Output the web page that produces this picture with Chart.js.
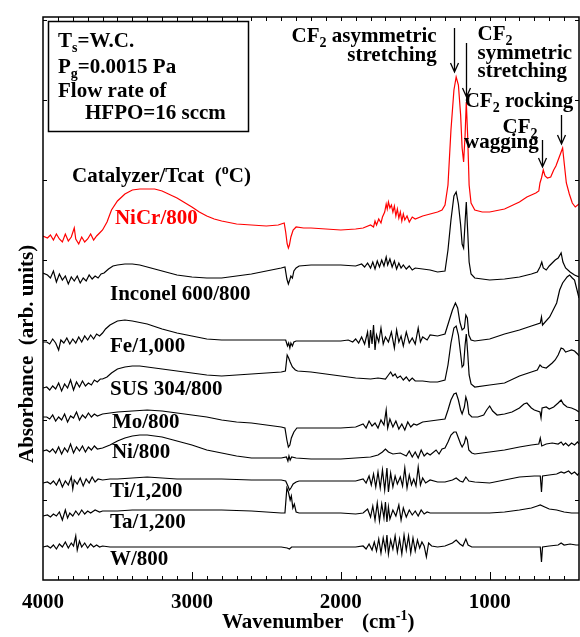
<!DOCTYPE html>
<html>
<head>
<meta charset="utf-8">
<script src="https://cdn.jsdelivr.net/npm/chart.js@4.4.1/dist/chart.umd.min.js"></script>
<style>
html, body { margin: 0; padding: 0; background: #fff; }
#wrap { width: 580px; height: 637px; }
</style>
</head>
<body>
<div id="wrap"><canvas id="ftir" width="580" height="637"></canvas></div>
<script>
// ===== DATA (wavenumber cm-1, absorbance arb. units, offset already applied) =====

var nicr = [
  [4000,344],[3970,342],[3950,345],[3930,340],[3910,346],[3890,341],[3870,338],[3850,346],[3830,339],[3810,343],
  [3790,352],[3780,341],[3760,336],[3740,343],[3720,338],[3700,341],[3680,346],[3660,340],[3640,344],[3620,347],
  [3600,350],[3570,358],[3540,370],[3500,379],[3450,386],[3400,390],[3350,391],[3300,391],[3250,391],[3200,389],
  [3100,382],[3000,373],[2950,368],[2900,364],[2850,361],[2800,359],[2700,356],[2600,355],[2500,354],[2420,355],
  [2380,357],[2370,348],[2360,336],[2352,332],[2345,335],[2335,343],[2320,350],[2300,353],[2250,352],[2200,352],
  [2100,351],[2000,350],[1900,351],[1850,352],[1800,355],[1780,353],[1770,359],[1760,355],[1745,361],[1730,357],
  [1720,363],[1705,368],[1695,376],[1688,371],[1680,378],[1670,372],[1660,375],[1650,368],[1640,374],[1630,364],
  [1620,371],[1610,362],[1600,368],[1590,359],[1580,366],[1570,360],[1555,364],[1540,358],[1520,363],[1500,361],
  [1450,364],[1400,366],[1350,368],[1320,370],[1300,375],[1280,395],[1260,450],[1240,490],[1225,503],[1210,495],
  [1195,465],[1185,432],[1175,418],[1165,445],[1157,478],[1148,445],[1138,395],[1125,377],[1100,370],[1050,368],
  [1000,368],[900,371],[800,378],[750,383],[720,385],[690,387],[670,389],[662,397],[652,402],[640,410],
  [628,404],[612,402],[590,403],[570,410],[555,414],[540,420],[520,428],[510,432],[498,415],[485,397],
  [465,386],[445,377],[425,373],[400,376]
];

var inconel = [
  [4000,307],[3970,305],[3950,302],[3930,309],[3910,298],[3890,306],[3870,300],[3850,304],[3830,296],[3810,303],
  [3790,299],[3770,304],[3750,297],[3730,302],[3710,299],[3690,305],[3670,301],[3650,304],[3630,302],[3610,306],
  [3590,307],[3560,311],[3530,314],[3500,315],[3450,316],[3400,316],[3350,315],[3300,313],[3200,309],[3100,305],
  [3000,303],[2900,302],[2800,302],[2700,304],[2600,306],[2500,309],[2400,312],[2375,313],[2362,301],[2352,296],
  [2343,300],[2335,304],[2325,302],[2315,309],[2300,312],[2280,314],[2200,315],[2100,315],[2000,315],[1900,314],
  [1860,316],[1840,313],[1820,317],[1800,312],[1785,318],[1770,311],[1755,319],[1740,313],[1725,320],[1710,314],
  [1695,323],[1685,315],[1670,321],[1655,313],[1640,319],[1625,311],[1610,317],[1595,312],[1580,315],[1560,311],
  [1540,314],[1520,310],[1500,312],[1450,311],[1400,310],[1350,308],[1300,309],[1280,330],[1260,360],[1240,384],
  [1225,388],[1210,376],[1195,355],[1185,336],[1175,332],[1165,358],[1157,378],[1148,350],[1138,318],[1125,306],
  [1100,302],[1000,300],[900,301],[800,303],[720,306],[680,308],[662,313],[650,318],[640,312],[620,310],
  [600,314],[580,317],[560,320],[540,322],[520,327],[508,318],[490,312],[460,308],[430,305],[400,303]
];

var fe = [
  [4000,238],[3975,238],[3955,236],[3935,241],[3915,237],[3895,230],[3880,240],[3860,237],[3840,242],[3820,236],
  [3800,241],[3780,237],[3760,243],[3740,238],[3720,244],[3700,240],[3680,245],[3660,241],[3640,246],[3620,244],
  [3600,247],[3580,251],[3550,255],[3500,259],[3450,260],[3400,259],[3300,256],[3200,251],[3100,247],[3000,244],
  [2900,241],[2800,240],[2600,240],[2400,240],[2370,240],[2358,234],[2350,237],[2342,232],[2335,237],[2325,234],
  [2315,238],[2300,239],[2200,239],[2000,239],[1950,240],[1920,238],[1900,241],[1880,237],[1860,243],[1840,236],
  [1820,248],[1810,232],[1800,250],[1790,236],[1780,255],[1770,230],[1760,245],[1745,238],[1730,252],[1715,236],
  [1700,243],[1680,238],[1660,248],[1640,232],[1625,250],[1610,238],[1595,244],[1580,234],[1560,248],[1540,237],
  [1520,242],[1500,236],[1480,252],[1465,238],[1450,243],[1420,240],[1400,245],[1350,244],[1300,246],[1275,258],
  [1250,270],[1230,277],[1215,272],[1200,258],[1185,250],[1170,252],[1160,265],[1150,262],[1140,245],[1125,240],
  [1100,239],[1000,241],[900,246],[800,250],[720,254],[660,257],[652,263],[645,255],[597,263],[550,277],
  [530,290],[510,297],[480,303],[463,305],[445,302],[430,300],[410,288],[400,282]
];

var sus304 = [
  [4000,192],[3975,193],[3955,190],[3935,194],[3915,191],[3895,197],[3875,189],[3855,196],[3835,192],[3815,200],
  [3795,190],[3775,198],[3755,193],[3735,199],[3715,194],[3695,197],[3675,195],[3655,200],[3635,198],[3615,201],
  [3600,201],[3570,203],[3540,207],[3500,211],[3450,213],[3400,214],[3350,214],[3300,213],[3200,211],[3100,209],
  [3000,207],[2900,205],[2800,204],[2700,205],[2600,206],[2500,207],[2400,208],[2372,209],[2360,225],[2350,222],
  [2340,218],[2325,213],[2305,210],[2290,209],[2200,208],[2100,206],[2000,204],[1900,202],[1800,201],[1750,202],
  [1700,201],[1680,205],[1665,208],[1650,204],[1635,206],[1620,202],[1600,204],[1580,200],[1560,203],[1540,199],
  [1520,202],[1500,199],[1450,199],[1400,198],[1350,198],[1300,200],[1280,215],[1260,237],[1240,252],[1225,254],
  [1210,245],[1195,226],[1185,213],[1175,215],[1165,235],[1157,246],[1148,228],[1138,205],[1125,196],[1100,193],
  [1000,195],[900,197],[800,204],[720,208],[680,210],[662,215],[648,213],[620,212],[580,217],[560,220],
  [540,225],[520,232],[505,231],[490,228],[470,229],[450,230],[430,229],[410,226],[400,224]
];

var mo = [
  [4000,163],[3975,163],[3955,161],[3935,165],[3915,159],[3895,163],[3875,160],[3855,166],[3835,158],[3815,164],
  [3795,162],[3775,168],[3755,160],[3735,165],[3715,162],[3695,167],[3675,163],[3655,166],[3635,164],[3600,166],
  [3550,167],[3500,168],[3400,169],[3300,170],[3200,169],[3100,167],[3000,165],[2900,163],[2800,160],[2700,158],
  [2600,157],[2500,155],[2400,153],[2375,152],[2362,140],[2352,133],[2342,135],[2332,142],[2315,148],[2295,152],
  [2200,152],[2000,152],[1900,153],[1850,156],[1830,152],[1810,159],[1790,154],[1770,157],[1750,152],[1730,160],
  [1710,155],[1695,170],[1685,152],[1670,161],[1650,153],[1630,159],[1610,151],[1590,156],[1570,150],[1550,158],
  [1530,153],[1510,156],[1490,155],[1450,158],[1400,159],[1350,160],[1300,161],[1280,170],[1260,180],[1240,186],
  [1225,187],[1210,180],[1195,170],[1185,166],[1170,173],[1160,183],[1150,178],[1140,166],[1120,163],[1080,163],
  [1040,165],[1020,170],[1000,174],[980,169],[950,165],[900,166],[850,168],[800,172],[770,176],[750,177],
  [720,172],[700,170],[662,168],[655,162],[648,172],[620,173],[600,171],[570,173],[540,177],[520,180],
  [505,176],[480,173],[450,172],[420,170],[400,168]
];

var ni = [
  [4000,129],[3975,130],[3955,128],[3935,131],[3915,127],[3895,133],[3875,126],[3855,132],[3835,128],[3815,136],
  [3795,127],[3775,133],[3755,129],[3735,134],[3715,128],[3695,133],[3675,130],[3655,134],[3635,131],[3600,132],
  [3550,135],[3500,139],[3450,142],[3400,144],[3350,145],[3300,145],[3200,143],[3100,139],[3000,135],[2900,130],
  [2800,127],[2700,124],[2600,122],[2500,122],[2400,122],[2365,123],[2355,119],[2348,124],[2340,120],[2330,123],
  [2300,122],[2200,121],[2100,121],[2000,121],[1900,122],[1800,123],[1750,125],[1720,128],[1700,131],[1680,128],
  [1650,126],[1600,127],[1560,124],[1540,129],[1520,123],[1500,128],[1480,122],[1460,130],[1440,124],[1420,127],
  [1400,125],[1360,130],[1340,126],[1320,131],[1300,132],[1280,138],[1260,145],[1240,148],[1225,148],[1210,142],
  [1195,136],[1185,133],[1170,137],[1160,143],[1150,140],[1140,130],[1120,127],[1100,126],[1000,128],[900,130],
  [800,133],[720,135],[670,136],[660,142],[650,134],[620,136],[580,137],[540,136],[520,138],[505,135],
  [490,137],[470,134],[450,137],[430,135],[410,138],[400,136]
];

var ti = [
  [4000,97],[3970,98],[3950,96],[3930,99],[3910,95],[3890,101],[3870,93],[3850,99],[3830,95],[3810,103],
  [3800,91],[3790,100],[3770,96],[3750,102],[3730,94],[3710,101],[3690,97],[3670,103],[3650,98],[3630,101],
  [3600,100],[3550,101],[3500,101],[3400,102],[3300,103],[3200,102],[3100,101],[3000,101],[2800,101],[2600,100],
  [2400,100],[2370,99],[2355,94],[2345,90],[2335,92],[2320,96],[2300,98],[2280,99],[2200,99],[2000,99],
  [1900,99],[1850,101],[1830,97],[1810,104],[1795,95],[1780,106],[1765,93],[1750,108],[1735,92],[1720,110],
  [1705,90],[1690,112],[1680,88],[1665,107],[1650,93],[1635,104],[1620,96],[1600,103],[1585,94],[1570,112],
  [1555,92],[1540,105],[1525,95],[1510,101],[1495,94],[1480,113],[1465,95],[1450,102],[1430,97],[1400,100],
  [1350,98],[1300,98],[1250,100],[1225,102],[1200,99],[1180,98],[1160,103],[1140,99],[1100,98],[1000,97],
  [900,100],[800,103],[700,104],[660,104],[652,88],[645,104],[600,105],[550,106],[520,108],[500,107],
  [470,109],[450,106],[430,108],[410,105],[400,107]
];

var ta = [
  [4000,64],[3970,65],[3950,63],[3930,66],[3910,64],[3890,68],[3870,60],[3850,70],[3835,62],[3820,67],
  [3800,64],[3780,69],[3760,65],[3740,70],[3720,66],[3700,69],[3680,67],[3650,70],[3620,68],[3600,69],
  [3500,69],[3400,70],[3200,70],[3000,70],[2800,70],[2600,69],[2400,67],[2375,67],[2362,92],[2352,88],
  [2340,80],[2332,84],[2322,72],[2312,76],[2300,68],[2280,67],[2200,67],[2000,67],[1900,66],[1850,67],
  [1820,71],[1800,63],[1785,74],[1770,60],[1755,77],[1740,59],[1725,76],[1710,62],[1700,78],[1690,58],
  [1680,73],[1670,61],[1650,70],[1630,64],[1610,75],[1595,60],[1580,72],[1560,63],[1540,70],[1520,65],
  [1500,69],[1480,64],[1460,70],[1440,66],[1420,68],[1400,67],[1300,67],[1200,67],[1000,67],[900,68],
  [800,70],[720,72],[680,74],[660,75],[630,73],[600,71],[550,70],[500,68],[450,67],[400,67]
];

var w800 = [
  [4000,33],[3970,34],[3950,32],[3930,35],[3910,31],[3890,36],[3870,33],[3850,38],[3830,32],[3810,37],
  [3795,34],[3780,44],[3770,30],[3755,39],[3740,33],[3720,37],[3700,32],[3680,36],[3660,33],[3640,35],
  [3620,33],[3600,34],[3550,33],[3500,33],[3000,33],[2600,33],[2400,33],[2360,32],[2345,31],[2330,33],
  [2300,33],[2000,33],[1900,33],[1850,34],[1830,31],[1810,36],[1790,30],[1775,38],[1760,29],[1745,41],
  [1730,27],[1715,42],[1700,30],[1690,45],[1680,26],[1665,40],[1650,31],[1635,44],[1620,28],[1605,41],
  [1590,26],[1575,45],[1560,30],[1545,44],[1530,27],[1515,42],[1500,29],[1485,40],[1470,32],[1455,38],
  [1440,34],[1425,23],[1410,37],[1390,34],[1350,33],[1300,34],[1250,37],[1225,40],[1200,36],[1180,34],
  [1160,41],[1145,35],[1120,33],[1000,33],[800,33],[660,33],[652,18],[645,33],[600,34],[540,35],
  [520,37],[500,35],[460,36],[420,35],[400,35]
];

var spectra = [nicr, inconel, fe, sus304, mo, ni, ti, ta, w800];
var spectrumNames = ['NiCr/800', 'Inconel 600/800', 'Fe/1,000', 'SUS 304/800', 'Mo/800', 'Ni/800', 'Ti/1,200', 'Ta/1,200', 'W/800'];
var spectrumColors = ['#ff0000', '#000', '#000', '#000', '#000', '#000', '#000', '#000', '#000'];

// label anchor points (wavenumber, absorbance) for each spectrum name
var nameWn  = [3517, 3550, 3550, 3550, 3537, 3537, 3550, 3550, 3550];
var nameAbs = [356, 280, 228, 185, 152, 122, 83, 52, 15];

var xTickLabels = [1000, 2000, 3000, 4000];
var yTickStep = 80;

// ===== TEXTOS =====
var SERIF = '"Liberation Serif", "Times New Roman", serif';
var FONT_SIZE = 21;

var infoLines = [
  [['T', ''], ['s', 'sub'], ['=W.C.', '']],
  [['P', ''], ['g', 'sub'], ['=0.0015 Pa', '']],
  [['Flow rate of', '']],
  [['HFPO=16 sccm', '']]
];
var infoWn  = [3899, 3899, 3899, 3718];
var infoAbs = [533, 507, 483, 461];

var bandNotes = [
  { parts: [['CF', ''], ['2', 'sub'], [' asymmetric', '']], wn: 1356, abs: 538, align: 'right' },
  { parts: [['stretching', '']], wn: 1356, abs: 519, align: 'right' },
  { parts: [['CF', ''], ['2', 'sub']], wn: 1081, abs: 540, align: 'left' },
  { parts: [['symmetric', '']], wn: 1081, abs: 521, align: 'left' },
  { parts: [['stretching', '']], wn: 1081, abs: 503, align: 'left' },
  { parts: [['CF', ''], ['2', 'sub'], [' rocking', '']], wn: 1168, abs: 473, align: 'left' },
  { parts: [['CF', ''], ['2', 'sub']], wn: 913, abs: 447, align: 'left' },
  { parts: [['wagging', '']], wn: 671, abs: 432, align: 'right' }
];

var bandArrows = [
  { wn: 1240, from: 552, to: 508 },
  { wn: 1161, from: 537, to: 483 },
  { wn: 523, from: 465, to: 436 },
  { wn: 651, from: 440, to: 413 }
];

function toPoints(pairs) {
  return pairs.map(function(p) { return { x: p[0], y: p[1] }; });
}

function drawRich(ctx, parts, x, y, align) {
  var total = 0;
  parts.forEach(function(p) {
    ctx.font = 'bold ' + (p[1] ? Math.round(FONT_SIZE * 0.68) : FONT_SIZE) + 'px ' + SERIF;
    total += ctx.measureText(p[0]).width;
  });
  if (align === 'right') x -= total;
  ctx.textAlign = 'left';
  ctx.textBaseline = 'alphabetic';
  parts.forEach(function(p) {
    ctx.font = 'bold ' + (p[1] ? Math.round(FONT_SIZE * 0.68) : FONT_SIZE) + 'px ' + SERIF;
    var dy = p[1] === 'sub' ? FONT_SIZE * 0.22 : (p[1] === 'sup' ? -FONT_SIZE * 0.4 : 0);
    ctx.fillText(p[0], x, y + dy);
    x += ctx.measureText(p[0]).width;
  });
}

// ===== PLUGIN: marco, ticks y textos =====
var decorPlugin = {
  id: 'decor',
  afterDatasetsDraw: function(chart) {
    var ctx = chart.ctx, xs = chart.scales.x, ys = chart.scales.y, a = chart.chartArea;
    ctx.save();

    // frame
    ctx.strokeStyle = '#000';
    ctx.lineWidth = 1.5;
    ctx.strokeRect(a.left, a.top, a.right - a.left, a.bottom - a.top);

    // x ticks (inward, bottom and top)
    ctx.lineWidth = 1;
    for (var wn = 500; wn < 4000; wn += 100) {
      var px = Math.round(xs.getPixelForValue(wn)) + 0.5;
      var len = (wn % 1000 === 0) ? 8 : 4;
      ctx.beginPath();
      ctx.moveTo(px, a.bottom); ctx.lineTo(px, a.bottom - len);
      ctx.moveTo(px, a.top); ctx.lineTo(px, a.top + 4);
      ctx.stroke();
    }
    // y ticks (inward, left and right)
    for (var v = yTickStep; v < ys.max; v += yTickStep) {
      var py = Math.round(ys.getPixelForValue(v)) + 0.5;
      ctx.beginPath();
      ctx.moveTo(a.left, py); ctx.lineTo(a.left + 4, py);
      ctx.moveTo(a.right, py); ctx.lineTo(a.right - 4, py);
      ctx.stroke();
    }

    ctx.fillStyle = '#000';
    ctx.font = 'bold ' + FONT_SIZE + 'px ' + SERIF;
    ctx.textAlign = 'center';
    ctx.textBaseline = 'alphabetic';
    xTickLabels.forEach(function(t) {
      ctx.fillText(String(t), xs.getPixelForValue(t), a.bottom + 28);
    });

    // axis titles
    drawRich(ctx, [['Wavenumber', '']], 222, a.bottom + 48, 'left');
    drawRich(ctx, [['(cm', ''], ['-1', 'sup'], [')', '']], 362, a.bottom + 48, 'left');
    ctx.save();
    ctx.translate(33, 463);
    ctx.rotate(-Math.PI / 2);
    drawRich(ctx, [['Absorbance  (arb. units)', '']], 0, 0, 'left');
    ctx.restore();

    // spectrum names
    spectrumNames.forEach(function(n, i) {
      ctx.fillStyle = spectrumColors[i];
      drawRich(ctx, [[n, '']], xs.getPixelForValue(nameWn[i]), ys.getPixelForValue(nameAbs[i]), 'left');
    });
    ctx.fillStyle = '#000';
    drawRich(ctx, [['Catalyzer/Tcat  (', ''], ['o', 'sup'], ['C)', '']],
      xs.getPixelForValue(3805), ys.getPixelForValue(398), 'left');

    // info box
    var bx0 = xs.getPixelForValue(3966), bx1 = xs.getPixelForValue(2624);
    var by0 = ys.getPixelForValue(559), by1 = ys.getPixelForValue(449);
    ctx.lineWidth = 1.5;
    ctx.strokeRect(Math.round(bx0) + 0.5, Math.round(by0) + 0.5, Math.round(bx1 - bx0), Math.round(by1 - by0));
    infoLines.forEach(function(parts, i) {
      drawRich(ctx, parts, xs.getPixelForValue(infoWn[i]), ys.getPixelForValue(infoAbs[i]), 'left');
    });

    // band notes and arrows
    bandNotes.forEach(function(n) {
      drawRich(ctx, n.parts, xs.getPixelForValue(n.wn), ys.getPixelForValue(n.abs), n.align);
    });
    ctx.lineWidth = 1.3;
    bandArrows.forEach(function(ar) {
      var x = Math.round(xs.getPixelForValue(ar.wn)) + 0.5;
      var y0 = ys.getPixelForValue(ar.from), y1 = ys.getPixelForValue(ar.to);
      ctx.beginPath();
      ctx.moveTo(x, y0); ctx.lineTo(x, y1);
      ctx.moveTo(x - 4, y1 - 9); ctx.lineTo(x, y1); ctx.lineTo(x + 4, y1 - 9);
      ctx.stroke();
    });

    ctx.restore();
  }
};

// ===== CHART =====
var datasets = spectra.map(function(s, i) {
  return {
    label: spectrumNames[i],
    data: toPoints(s),
    borderColor: spectrumColors[i],
    borderWidth: 1.2,
    pointRadius: 0,
    tension: 0,
    fill: false
  };
});

new Chart(document.getElementById('ftir'), {
  type: 'line',
  data: { datasets: datasets },
  options: {
    responsive: false,
    devicePixelRatio: 1,
    animation: false,
    layout: { padding: { left: 43, right: 1, top: 17, bottom: 57 } },
    plugins: { legend: { display: false }, tooltip: { enabled: false } },
    scales: {
      x: { type: 'linear', min: 400, max: 4000, reverse: true, display: false },
      y: { type: 'linear', min: 0, max: 563, display: false }
    }
  },
  plugins: [decorPlugin]
});
</script>
</body>
</html>
